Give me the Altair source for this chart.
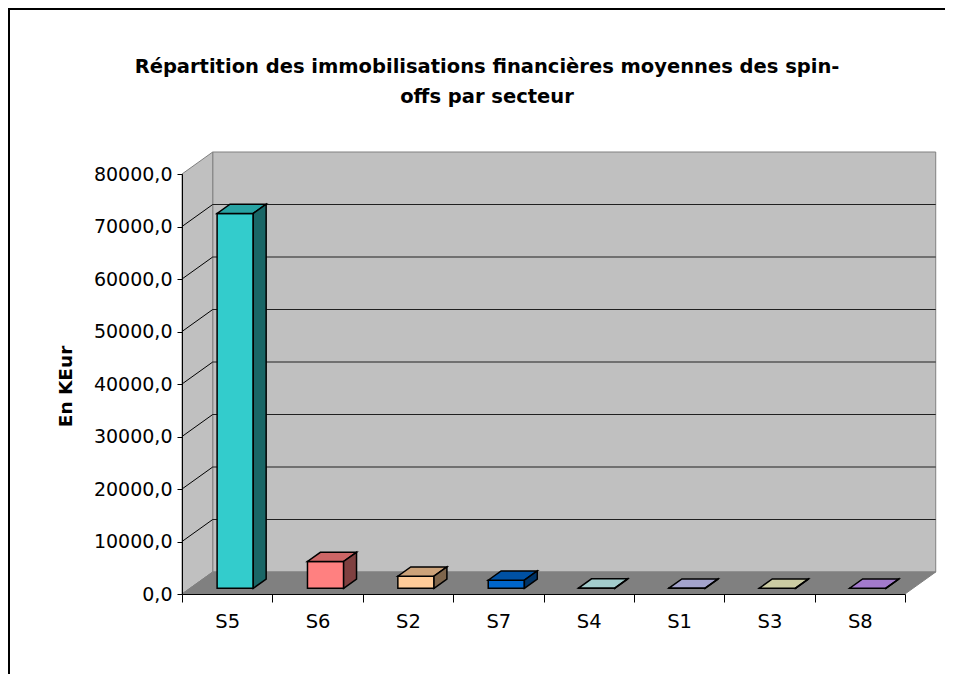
import json
import altair as alt
import pandas as pd

# ---------------- data ----------------
categories = ["S5", "S6", "S2", "S7", "S4", "S1", "S3", "S8"]
values = [71400, 5100, 2300, 1550, 40, 30, 20, 10]
front_colors = ["#33CCCC", "#FF8080", "#FFCC99", "#0066CC",
                "#CCFFFF", "#CCCCFF", "#FFFFCC", "#CC99FF"]
y_ticks = [0, 10000, 20000, 30000, 40000, 50000, 60000, 70000, 80000]
title_lines = ["Répartition des immobilisations financières moyennes des spin-",
               "offs par secteur"]
y_title = "En KEur"

# ---------------- layout constants (3-D look) ----------------
N = len(categories)
YMAX = 80000
DX = 0.34        # depth shift in category units
DY = 4190        # depth shift in value units
F1 = 0.26        # depth where bars start
D = 0.42         # bar depth fraction
BL, BR = 0.30, 0.70
FONT = "DejaVu Sans"
PAD = {"left": 174, "top": 166, "right": 40, "bottom": 80}
W, H = 723, 420


def shade(hexcol, f):
    h = hexcol.lstrip("#")
    r, g, b = (int(h[i:i + 2], 16) for i in (0, 2, 4))
    return "#{:02X}{:02X}{:02X}".format(int(r * f), int(g * f), int(b * f))


front_rows, top_rows, side_rows = [], [], []
for i, (c, v, col) in enumerate(zip(categories, values, front_colors)):
    x0 = i + BL + F1 * DX
    x1 = i + BR + F1 * DX
    y0 = F1 * DY
    y1 = y0 + v
    ddx, ddy = D * DX, D * DY
    front_rows.append(dict(cat=c, x=x0, x2=x1, y=y0, y2=y1, col=col))
    tc = shade(col, 0.8)
    top_rows += [
        dict(cat=c, x=x0, y=y1, y2=y1, col=tc),
        dict(cat=c, x=x0 + ddx, y=y1, y2=y1 + ddy, col=tc),
        dict(cat=c, x=x1, y=y1, y2=y1 + ddy, col=tc),
        dict(cat=c, x=x1 + ddx, y=y1 + ddy, y2=y1 + ddy, col=tc),
    ]
    sc = shade(col, 0.5)
    side_rows += [
        dict(cat=c, x=x1, y=y0, y2=y1, col=sc),
        dict(cat=c, x=x1 + ddx, y=y0 + ddy, y2=y1 + ddy, col=sc),
    ]

front_df = pd.DataFrame(front_rows)
top_df = pd.DataFrame(top_rows)
side_df = pd.DataFrame(side_rows)

back_wall = pd.DataFrame([dict(x=DX, x2=N + DX, y=DY, y2=YMAX + DY)])
left_wall = pd.DataFrame([dict(x=0, y=0, y2=YMAX), dict(x=DX, y=DY, y2=YMAX + DY)])
floor = pd.DataFrame([dict(x=0, y=0, y2=0), dict(x=DX, y=0, y2=DY),
                      dict(x=N, y=0, y2=DY), dict(x=N + DX, y=DY, y2=DY)])
grid_vals = [t for t in y_ticks if 0 < t < YMAX]
back_grid = pd.DataFrame([dict(x=DX, x2=N + DX, y=t + DY) for t in grid_vals])
left_grid = pd.DataFrame([dict(x=0, x2=DX, y=t, y2=t + DY) for t in grid_vals])

xs = alt.Scale(domain=[0, N], nice=False, zero=False)
ys = alt.Scale(domain=[0, YMAX], nice=False, zero=False)

x_axis = alt.Axis(
    values=[k / 2 for k in range(2 * N + 1)],
    labelExpr="datum.value % 1 == 0.5 ? " + json.dumps(categories) + "[floor(datum.value)] : ''",
    tickOpacity={"condition": {"test": "datum.value % 1 != 0", "value": 0}, "value": 1},
    tickSize=8, tickColor="black", domainColor="black", labelColor="black",
    labelFont=FONT, labelFontSize=19.5, labelPadding=10, labelOverlap=False,
    labelFlush=False, grid=False, title=None, zindex=1,
)
y_axis = alt.Axis(
    values=y_ticks, format=".1f", labelExpr="replace(datum.label, '.', ',')",
    tickSize=5, tickColor="black", domainColor="black", labelColor="black",
    labelFont=FONT, labelFontSize=19, labelPadding=5, labelOverlap=False,
    grid=False, zindex=1,
    title=y_title, titleFont=FONT, titleFontSize=18.5, titleFontWeight="bold",
    titleColor="black", titleAngle=-90, titleX=-117, titleY=212,
    titleAlign="center", titleBaseline="middle",
)

X = alt.X("x:Q", scale=xs, axis=x_axis)
Y = alt.Y("y:Q", scale=ys, axis=y_axis, stack=None)

# frame of the chart area: only its top and left edges show in the reference.
# Drawn as thin filled rectangles (no stroke), kept inside the canvas.
fx = -PAD["left"]
fy = -PAD["top"]
right_edge = W + PAD["right"]
bottom_edge = H + PAD["bottom"]
one = pd.DataFrame([{"a": 1}])
border_left = alt.Chart(one).mark_rect(fill="black", strokeWidth=0).encode(
    x=alt.value(fx), x2=alt.value(fx + 2), y=alt.value(fy), y2=alt.value(bottom_edge))
border_top = alt.Chart(one).mark_rect(fill="black", strokeWidth=0).encode(
    x=alt.value(fx), x2=alt.value(right_edge), y=alt.value(fy), y2=alt.value(fy + 2))

title = alt.Chart(pd.DataFrame([{"t": "\n".join(title_lines)}])).mark_text(
    font=FONT, fontSize=19.5, fontWeight="bold", color="black", lineBreak="\n",
    lineHeight=30, align="center", baseline="middle",
).encode(text="t:N", x=alt.value(305), y=alt.value(-107))

wall = alt.Chart(back_wall).mark_rect(fill="#C0C0C0", stroke="#808080", strokeWidth=1).encode(
    x=X, x2="x2:Q", y=Y, y2="y2:Q",
)
lwall = alt.Chart(left_wall).mark_area(fill="#C0C0C0", stroke="#808080", strokeWidth=1,
                                       orient="vertical").encode(x=X, y=Y, y2="y2:Q")
flr = alt.Chart(floor).mark_area(fill="#808080", stroke="#808080", strokeWidth=1,
                                 orient="vertical").encode(x=X, y=Y, y2="y2:Q")
bgrid = alt.Chart(back_grid).mark_rule(color="#202020", strokeWidth=1).encode(
    x=X, x2="x2:Q", y=Y,
)
lgrid = alt.Chart(left_grid).mark_rule(color="#000000", strokeWidth=1).encode(
    x=X, x2="x2:Q", y=Y, y2="y2:Q",
)
front = alt.Chart(front_df).mark_rect(stroke="black", strokeWidth=1.5).encode(
    x=X, x2="x2:Q", y=Y, y2="y2:Q", fill=alt.Fill("col:N", scale=None),
)
top = alt.Chart(top_df).mark_area(stroke="black", strokeWidth=1.5, orient="vertical").encode(
    x=X, y=Y, y2="y2:Q", fill=alt.Fill("col:N", scale=None), detail="cat:N",
)
side = alt.Chart(side_df).mark_area(stroke="black", strokeWidth=1.5, orient="vertical").encode(
    x=X, y=Y, y2="y2:Q", fill=alt.Fill("col:N", scale=None), detail="cat:N",
)

chart = alt.layer(border_left, border_top, title, wall, lwall, flr, bgrid, lgrid,
                  front, top, side).properties(
    width=W, height=H,
    autosize=alt.AutoSizeParams(type="none"),
    padding=PAD,
).configure_view(strokeWidth=0).configure(background="white")

chart.save("out.html", embed_options={"renderer": "svg", "actions": False})
